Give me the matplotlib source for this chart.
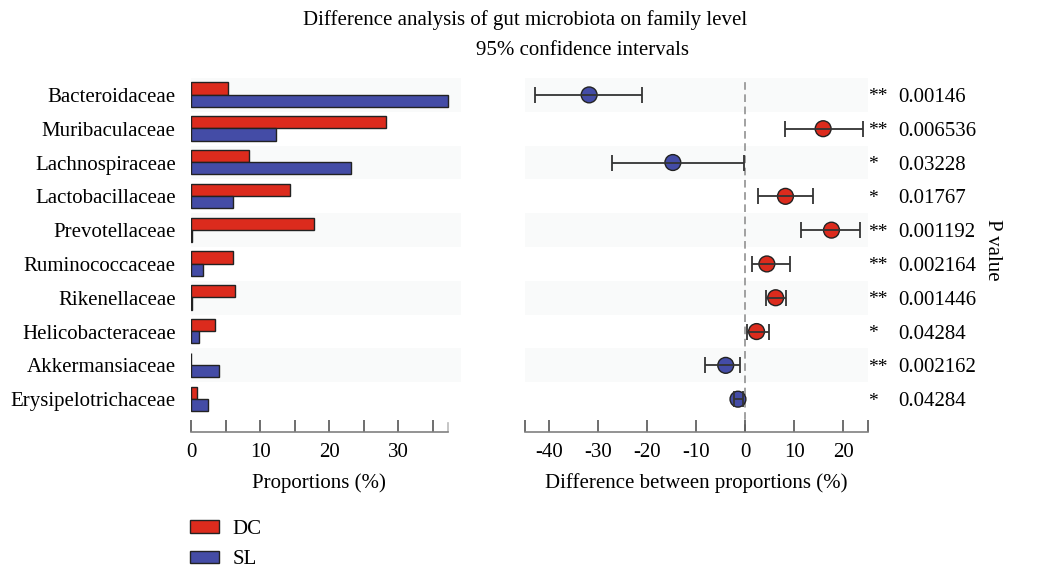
import numpy as np
import matplotlib
matplotlib.use("Agg")
import matplotlib.pyplot as plt
from matplotlib.patches import Patch

plt.rcParams['font.family'] = ['Liberation Serif', 'DejaVu Serif']
plt.rcParams['font.size'] = 15

families = ['Bacteroidaceae', 'Muribaculaceae', 'Lachnospiraceae', 'Lactobacillaceae',
            'Prevotellaceae', 'Ruminococcaceae', 'Rikenellaceae', 'Helicobacteraceae',
            'Akkermansiaceae', 'Erysipelotrichaceae']

# mean proportions (%) per group
dc = [5.3, 28.3, 8.4, 14.3, 17.8, 6.1, 6.4, 3.5, 0.05, 0.9]
sl = [37.2, 12.3, 23.1, 6.1, 0.1, 1.7, 0.2, 1.2, 4.0, 2.4]

# difference DC - SL with 95% CI
diff = [-31.9, 15.9, -14.8, 8.2, 17.6, 4.4, 6.2, 2.3, -4.0, -1.5]
ci_low = [-42.9, 8.2, -27.3, 2.6, 11.3, 1.4, 4.2, 0.3, -8.3, -2.3]
ci_high = [-21.1, 24.0, -0.2, 13.8, 23.5, 9.2, 8.4, 4.8, -1.1, -0.4]

stars = ['**', '**', '*', '*', '**', '**', '**', '*', '**', '*']
pvals = ['0.00146', '0.006536', '0.03228', '0.01767', '0.001192',
         '0.002164', '0.001446', '0.04284', '0.002162', '0.04284']

red = '#dc2b1d'
blue = '#444ca6'
band = '#f9fafa'
spine_col = '#808080'

W, H = 1047, 569
fig = plt.figure(figsize=(W / 100, H / 100), dpi=100)

ax1 = fig.add_axes([191 / W, 1 - 432.3 / H, 270 / W, 354.3 / H])
ax2 = fig.add_axes([525 / W, 1 - 432.3 / H, 342.7 / W, 354.3 / H])

y = np.arange(len(families))

for ax in (ax1, ax2):
    for i in y[::2]:
        ax.axhspan(i - 0.5, i + 0.5, color=band, lw=0, zorder=0)
    ax.set_ylim(9.98, -0.5)
    for s in ('top', 'right', 'left'):
        ax.spines[s].set_visible(False)
    ax.spines['bottom'].set_color(spine_col)
    ax.spines['bottom'].set_linewidth(1.2)
    ax.tick_params(axis='x', which='both', direction='in', length=9, width=1.2,
                   color='#555555', pad=8, labelsize=15)

# left panel: proportions
ax1.barh(y - 0.19, dc, height=0.36, color=red, edgecolor='#222222', lw=1, zorder=2)
ax1.barh(y + 0.17, sl, height=0.36, color=blue, edgecolor='#222222', lw=1, zorder=2)
ax1.set_xlim(0, 39.1)
ax1.spines['bottom'].set_bounds(0, max(sl))
ax1.set_xticks([0, 10, 20, 30])
ax1.set_xticks([5, 15, 25, 35], minor=True)
ax1.set_yticks(y)
ax1.set_yticklabels(families)
ax1.tick_params(axis='y', length=0, pad=11)
ax1.axvline(max(sl), ymin=0, ymax=9 / 354.3, color='#bbbbbb', lw=1.2, zorder=1)

# right panel: differences with confidence intervals
ax2.set_xlim(-45, 25)
ax2.axvline(0, color='#888888', lw=1.1, ls=(0, (5, 3)), zorder=1)
cols = [red if d > 0 else blue for d in diff]
ax2.scatter(diff, y, s=130, c=cols, edgecolors='#222222', linewidths=1, zorder=3)
err = [np.array(diff) - np.array(ci_low), np.array(ci_high) - np.array(diff)]
ax2.errorbar(diff, y, xerr=err, fmt='none', ecolor='#333333', elinewidth=1.3,
             capsize=6, capthick=1.3, zorder=4)
ax2.set_xticks([-40, -30, -20, -10, 0, 10, 20])
ax2.set_xticklabels(['-40', '-30', '-20', '-10', '0', '10', '20'])
ax2.set_xticks([-45, 25], minor=True)
ax2.set_yticks([])

for i in y:
    ax2.text(1.001, i, stars[i], transform=ax2.get_yaxis_transform(),
             ha='left', va='center_baseline', fontsize=14, clip_on=False)
    ax2.text(1.088, i, pvals[i], transform=ax2.get_yaxis_transform(),
             ha='left', va='center_baseline', fontsize=15, clip_on=False)

fig.text(992 / W, 1 - 250 / H, 'P value', rotation=270, ha='center', va='center')

fig.text(319 / W, 1 - 481 / H, 'Proportions (%)', ha='center', va='center_baseline')
fig.text(696 / W, 1 - 481 / H, 'Difference between proportions (%)', ha='center',
         va='center_baseline')

fig.text(525 / W, 1 - 18 / H, 'Difference analysis of gut microbiota on family level',
         ha='center', va='center_baseline')
fig.text(582 / W, 1 - 48 / H, '95% confidence intervals', ha='center', va='center_baseline')

handles = [Patch(facecolor=red, edgecolor='#222222', lw=1),
           Patch(facecolor=blue, edgecolor='#222222', lw=1)]
fig.legend(handles, ['DC', 'SL'], loc='upper left', bbox_to_anchor=(190 / W, 1 - 520 / H),
           frameon=False, handlelength=1.4, handleheight=0.55, handletextpad=0.65,
           labelspacing=0.55, borderpad=0, borderaxespad=0, fontsize=15)

fig.savefig('out.png', dpi=100)
